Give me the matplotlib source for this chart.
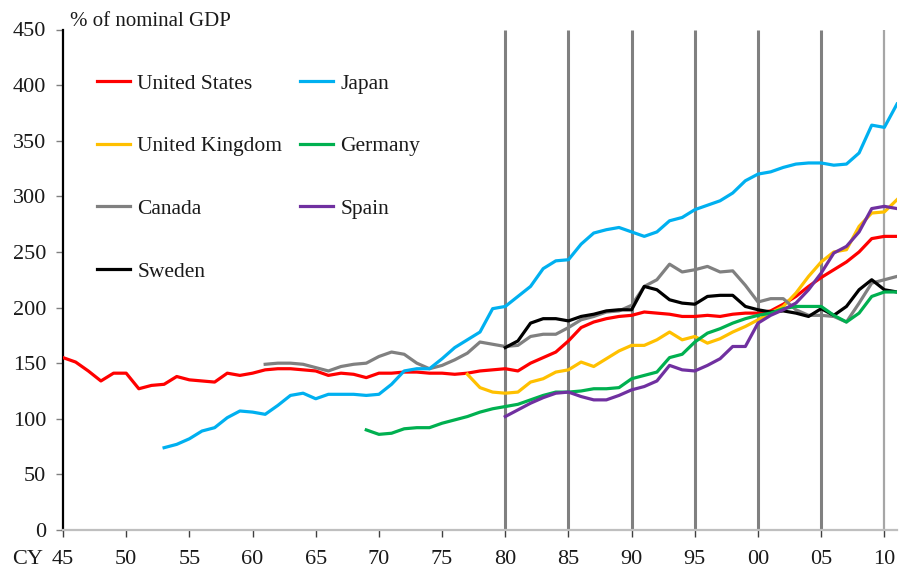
import matplotlib
matplotlib.use("Agg")
import matplotlib.pyplot as plt
import numpy as np

plt.rcParams['font.family'] = ['Liberation Serif', 'DejaVu Serif']

# ---- data (% of nominal GDP) ----
us_years = list(range(1945, 2012))
us_vals = [155, 151, 143, 134, 141, 141, 127, 130, 131, 138, 135, 134, 133, 141, 139, 141,
           144, 145, 145, 144, 143, 139, 141, 140, 137, 141, 141, 142, 142, 141, 141, 140,
           141, 143, 144, 145, 143, 150, 155, 160, 170, 182, 187, 190, 192, 193, 196, 195,
           194, 192, 192, 193, 192, 194, 195, 195, 197, 203, 210, 219, 227, 234, 241, 250,
           262, 264, 264]

jp_years = list(range(1953, 2012))
jp_vals = [74, 77, 82, 89, 92, 101, 107, 106, 104, 112, 121, 123, 118, 122, 122, 122,
           121, 122, 131, 143, 145, 145, 154, 164, 171, 178, 199, 201, 210, 219, 235, 242,
           243, 257, 267, 270, 272, 268, 264, 268, 278, 281, 288, 292, 296, 303, 314, 320,
           322, 326, 329, 330, 330, 328, 329, 339, 364, 362, 383]

uk_years = list(range(1977, 2012))
uk_vals = [140, 128, 124, 123, 124, 133, 136, 142, 144, 151, 147, 154, 161, 166, 166, 171,
           178, 171, 174, 168, 172, 178, 183, 189, 195, 201, 213, 228, 241, 250, 252, 273,
           285, 286, 297]

de_years = list(range(1969, 2012))
de_vals = [90, 86, 87, 91, 92, 92, 96, 99, 102, 106, 109, 111, 113, 117, 121, 124, 124,
           125, 127, 127, 128, 136, 139, 142, 155, 158, 169, 177, 181, 186, 190, 193, 195,
           199, 201, 201, 201, 193, 187, 195, 210, 214, 214]

ca_years = list(range(1961, 2012))
ca_vals = [149, 150, 150, 149, 146, 143, 147, 149, 150, 156, 160, 158, 150, 145, 148, 153,
           159, 169, 167, 165, 166, 174, 176, 176, 182, 189, 192, 196, 197, 202, 219, 225,
           239, 232, 234, 237, 232, 233, 220, 205, 208, 208, 198, 193, 193, 192, 187, 204,
           222, 225, 228]

es_years = list(range(1980, 2012))
es_vals = [102, 108, 114, 119, 123, 124, 120, 117, 117, 121, 126, 129, 134, 148, 144, 143,
           148, 154, 165, 165, 186, 193, 198, 204, 216, 231, 249, 255, 268, 289, 291, 289]

se_years = list(range(1980, 2012))
se_vals = [164, 170, 186, 190, 190, 188, 192, 194, 197, 198, 198, 219, 216, 207, 204, 203,
           210, 211, 211, 201, 198, 196, 197, 195, 192, 199, 193, 201, 216, 225, 216, 214]

series = [
    ("United States", us_years, us_vals, "#FF0000"),
    ("United Kingdom", uk_years, uk_vals, "#FFC000"),
    ("Canada", ca_years, ca_vals, "#808080"),
    ("Sweden", se_years, se_vals, "#000000"),
    ("Japan", jp_years, jp_vals, "#00B0F0"),
    ("Germany", de_years, de_vals, "#00B050"),
    ("Spain", es_years, es_vals, "#7030A0"),
]

vlines_dark = [1980, 1985, 1990, 1995, 2000, 2005]
vline_light = 2010

xticks = list(range(1945, 2011, 5))
xticklabels = ["45", "50", "55", "60", "65", "70", "75", "80", "85", "90", "95", "00", "05", "10"]
yticks = list(range(0, 451, 50))

# ---- figure ----
fig = plt.figure(figsize=(9.01, 5.71), dpi=100)
ax = fig.add_axes([63 / 901, 1 - 530 / 571, (897 - 63) / 901, (530 - 29.5) / 571])

for xv in vlines_dark:
    ax.plot([xv, xv], [0, 450], color="#808080", lw=2.2, zorder=1, solid_capstyle="butt")
ax.plot([vline_light, vline_light], [0, 450], color="#A6A6A6", lw=1.6, zorder=1,
        solid_capstyle="butt")

for name, xs, ys, col in series:
    ax.plot(xs, ys, color=col, lw=2.3, label=name, zorder=3, solid_joinstyle="round")

ax.set_xlim(1945, 2011)
ax.set_ylim(0, 450)
ax.set_xticks(xticks)
ax.set_xticklabels(xticklabels)
ax.set_yticks(yticks)

for s in ["top", "right"]:
    ax.spines[s].set_visible(False)
ax.spines["left"].set_color("#000000")
ax.spines["left"].set_linewidth(1.6)
ax.spines["bottom"].set_color("#BFBFBF")
ax.spines["bottom"].set_linewidth(1.6)

ax.tick_params(axis="y", direction="out", length=5, width=1.0, color="#808080",
               labelsize=16, labelcolor="#1a1a1a", pad=7)
ax.tick_params(axis="x", direction="out", length=5, width=1.0, color="#404040",
               labelsize=16, labelcolor="#1a1a1a", pad=9.5)

fig.text(70 / 901, 1 - 21 / 571, "% of nominal GDP", fontsize=15, va="center", ha="left",
         color="#1a1a1a")
fig.text(12 / 901, 1 - 559 / 571, "CY", fontsize=16, va="center", ha="left",
         color="#1a1a1a")

leg = ax.legend(loc="upper left", bbox_to_anchor=(34 / 834, 1 - 44 / 500.5), ncol=2,
                frameon=False, fontsize=15.5, handlelength=1.55, handletextpad=0.33,
                labelspacing=1.98, columnspacing=0.8, borderaxespad=0, borderpad=0)
for t in leg.get_texts():
    t.set_color("#1a1a1a")

fig.savefig("out.png", dpi=100)
